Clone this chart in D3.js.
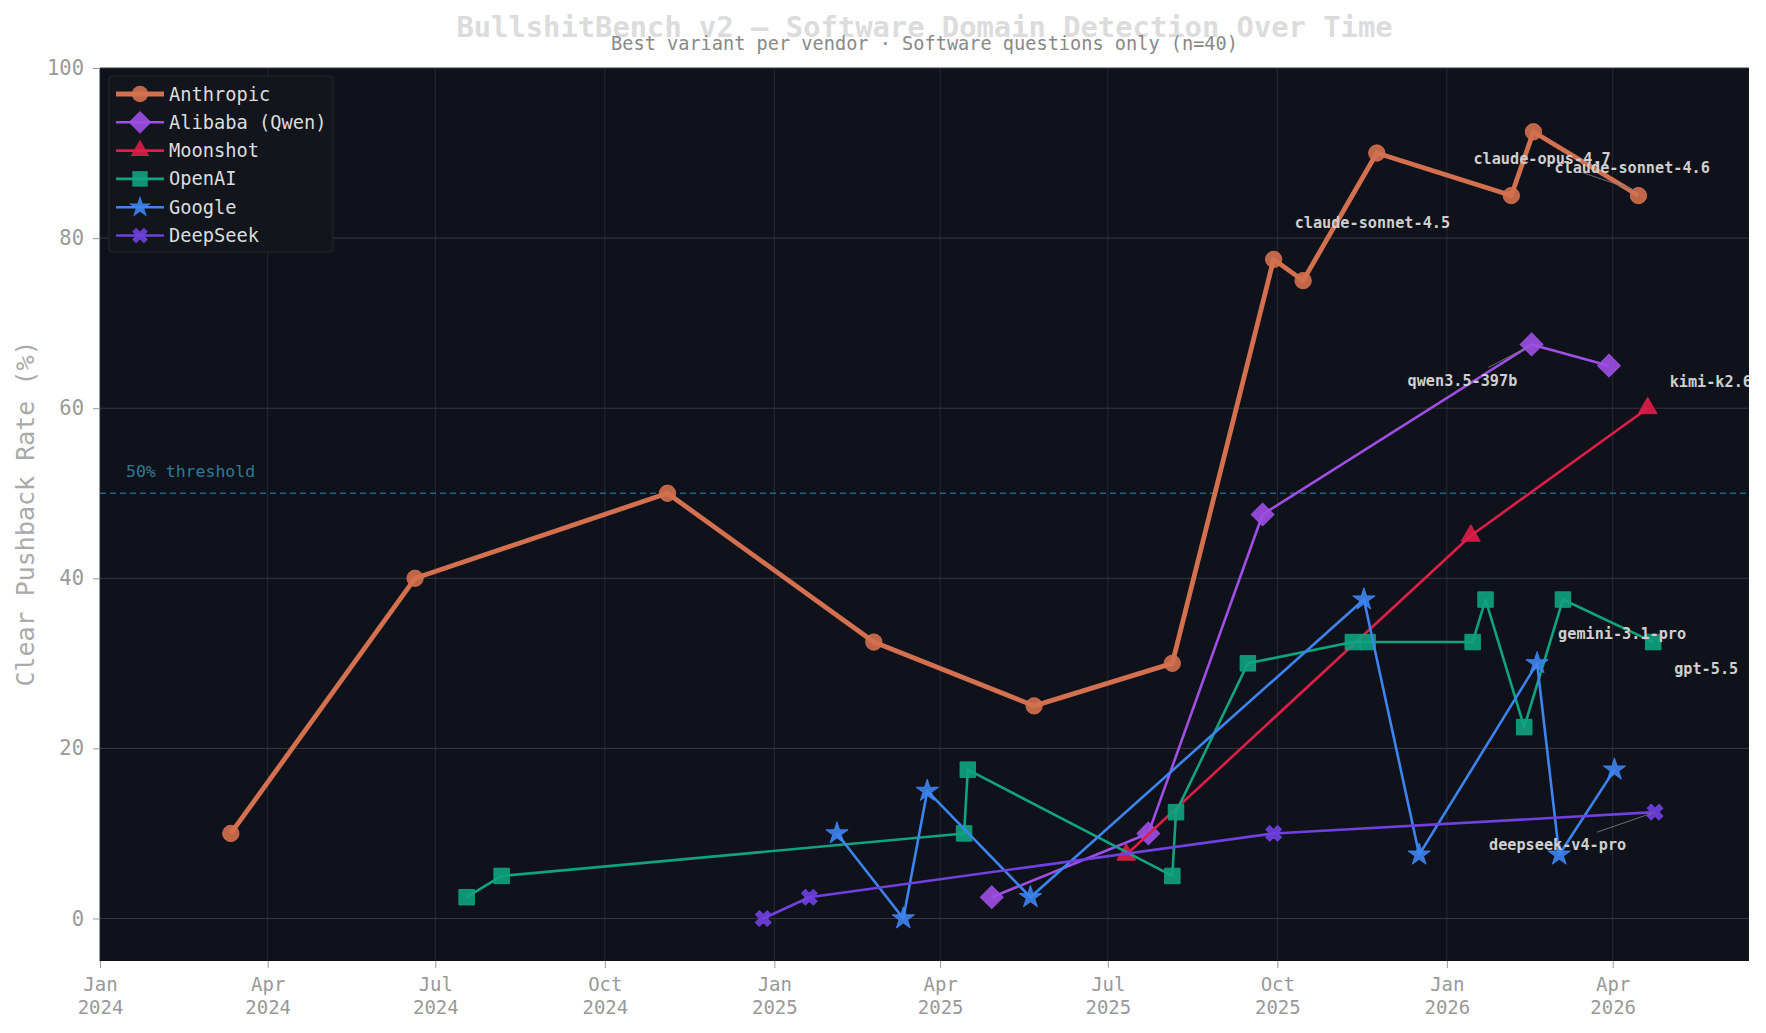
<!DOCTYPE html>
<html><head><meta charset="utf-8">
<script src="https://cdn.jsdelivr.net/npm/d3@7"></script>
<style>
html,body{margin:0;padding:0;background:#ffffff;}
svg{display:block;font-family:"DejaVu Sans Mono",monospace;}
</style></head>
<body>
<svg id="chart" width="1766" height="1033"></svg>
<script>
// ---------- DATA ----------
const seriesNames = ["Anthropic", "Alibaba (Qwen)", "Moonshot", "OpenAI", "Google", "DeepSeek"];

const anthropicDates = ["2024-03-12","2024-06-20","2024-11-04","2025-02-24","2025-05-22","2025-08-05","2025-09-29","2025-10-15","2025-11-24","2026-02-05","2026-02-17","2026-04-15"];
const anthropicValues = [10, 40, 50, 32.5, 25, 30, 77.5, 75, 90, 85, 92.5, 85];

const alibabaDates = ["2025-04-29","2025-07-23","2025-09-23","2026-02-16","2026-03-30"];
const alibabaValues = [2.5, 10, 47.5, 67.5, 65];

const moonshotDates = ["2025-07-11","2026-01-14","2026-04-20"];
const moonshotValues = [7.5, 45, 60];

const openaiDates = ["2024-07-18","2024-08-06","2025-04-14","2025-04-16","2025-08-05","2025-08-07","2025-09-15","2025-11-11","2025-11-19","2026-01-15","2026-01-22","2026-02-12","2026-03-05","2026-04-23"];
const openaiValues = [2.5, 5, 10, 17.5, 5, 12.5, 30, 32.5, 32.5, 32.5, 37.5, 22.5, 37.5, 32.5];

const googleDates = ["2025-02-04","2025-03-12","2025-03-25","2025-05-20","2025-11-17","2025-12-17","2026-02-19","2026-03-03","2026-04-02"];
const googleValues = [10, 0, 15, 2.5, 37.5, 7.5, 30, 7.5, 17.5];

const deepseekDates = ["2024-12-26","2025-01-20","2025-09-29","2026-04-24"];
const deepseekValues = [0, 2.5, 10, 12.5];

const yTicks = [0, 20, 40, 60, 80, 100];
const thresholdValue = 50;
const thresholdLabel = "50% threshold";

const annotationLabels = ["claude-sonnet-4.5","claude-opus-4.7","claude-sonnet-4.6","qwen3.5-397b","kimi-k2.6","gemini-3.1-pro","gpt-5.5","deepseek-v4-pro"];
const annotationDates  = ["2025-09-29","2026-04-15","2026-04-15","2026-02-16","2026-04-20","2026-02-19","2026-04-23","2026-04-24"];
const annotationValues = [77.5, 85, 85, 67.5, 60, 30, 32.5, 12.5];

const titleText = "BullshitBench v2 \u2014 Software Domain Detection Over Time";
const subtitleText = "Best variant per vendor \u00b7 Software questions only (n=40)";
const yLabelText = "Clear Pushback Rate (%)";

// ---------- STYLE / LAYOUT ----------
const colors = ["#d3704f", "#9f4fe6", "#dc1e48", "#10a37f", "#3d84f0", "#7040e0"];
const lineWidths = [4.8, 2.6, 2.6, 2.6, 2.6, 2.6];
const symbolTypes = [d3.symbolCircle, d3.symbolSquare, d3.symbolTriangle, d3.symbolSquare, d3.symbolStar, d3.symbolCross];
const symbolSizes = [210, 260, 155, 240, 155, 155];
const symbolRot = [0, 45, 0, 0, 0, 45];
// annotation offsets in px relative to the anchor point: [textDx, textDy, leader]
const annotationOffsets = [
  [21, -31, null],
  [-165, -32, null],
  [-84, -23, [-59, -24, 0, -4]],
  [-124, 42, [-43, 23, -3, 2]],
  [22, -21, null],
  [21, -24, null],
  [21, 32, null],
  [-166, 38, [-58, 20, -3, 1]]
];

const m = {left: 100, right: 1749, top: 68, bottom: 961};

const parse = d3.timeParse("%Y-%m-%d");
const allDates = [anthropicDates, alibabaDates, moonshotDates, openaiDates, googleDates, deepseekDates];
const allValues = [anthropicValues, alibabaValues, moonshotValues, openaiValues, googleValues, deepseekValues];
const series = seriesNames.map((n, i) => ({
  name: n, color: colors[i],
  points: allDates[i].map((d, j) => ({date: parse(d), value: allValues[i][j]}))
}));

const x = d3.scaleTime().domain([parse("2024-01-01"), parse("2026-06-14")]).range([m.left, m.right]);
const y = d3.scaleLinear().domain([-5, 100]).range([m.bottom, m.top]);

const svg = d3.select("#chart");

svg.append("rect").attr("x", m.left).attr("y", m.top)
  .attr("width", m.right - m.left).attr("height", m.bottom - m.top).attr("fill", "#0f121a");

svg.append("defs").append("clipPath").attr("id", "clip")
  .append("rect").attr("x", m.left).attr("y", m.top)
  .attr("width", m.right - m.left).attr("height", m.bottom - m.top);

// grid
const xTicks = x.ticks(d3.timeMonth.every(3)).filter(d => d <= x.domain()[1]);
const grid = svg.append("g");
grid.selectAll("line.v").data(xTicks).join("line")
  .attr("x1", d => x(d)).attr("x2", d => x(d)).attr("y1", m.top).attr("y2", m.bottom)
  .attr("stroke", "#262a33").attr("stroke-width", 1);
grid.selectAll("line.h").data(yTicks).join("line")
  .attr("x1", m.left).attr("x2", m.right).attr("y1", d => y(d)).attr("y2", d => y(d))
  .attr("stroke", "#353942").attr("stroke-width", 1);

// axes
const fmtMon = d3.timeFormat("%b"), fmtYr = d3.timeFormat("%Y");
const xAxis = svg.append("g").attr("transform", `translate(0,${m.bottom})`)
  .call(d3.axisBottom(x).tickValues(xTicks).tickSize(7).tickPadding(10).tickFormat(() => ""));
xAxis.select(".domain").remove();
xAxis.selectAll(".tick line").attr("stroke", "#999");
xAxis.selectAll(".tick text").each(function(d) {
  const t = d3.select(this);
  t.attr("font-size", 19).attr("fill", "#999").attr("font-family", "DejaVu Sans Mono");
  t.append("tspan").attr("x", 0).attr("dy", "0.71em").text(fmtMon(d));
  t.append("tspan").attr("x", 0).attr("dy", "1.2em").text(fmtYr(d));
});

const yAxis = svg.append("g").attr("transform", `translate(${m.left},0)`)
  .call(d3.axisLeft(y).tickValues(yTicks).tickSize(7).tickPadding(9));
yAxis.select(".domain").remove();
yAxis.selectAll(".tick line").attr("stroke", "#999");
yAxis.selectAll(".tick text").attr("font-size", 20.5).attr("fill", "#999").attr("font-family", "DejaVu Sans Mono");

svg.append("text").attr("transform", `translate(34,${(m.top + m.bottom) / 2 - 1}) rotate(-90)`)
  .attr("text-anchor", "middle").attr("font-size", 25).attr("fill", "#aaaaaa")
  .text(yLabelText);

// titles
svg.append("text").attr("x", (m.left + m.right) / 2).attr("y", 37).attr("text-anchor", "middle")
  .attr("font-size", 28.8).attr("font-weight", "bold").attr("fill", "#dcdcdc").text(titleText);
svg.append("text").attr("x", (m.left + m.right) / 2).attr("y", 50).attr("text-anchor", "middle")
  .attr("font-size", 18.6).attr("fill", "#888").text(subtitleText);

const plot = svg.append("g").attr("clip-path", "url(#clip)");

// threshold
plot.append("line").attr("x1", m.left).attr("x2", m.right)
  .attr("y1", y(thresholdValue)).attr("y2", y(thresholdValue))
  .attr("stroke", "#1f6480").attr("stroke-width", 1.3).attr("stroke-dasharray", "6,4");
plot.append("text").attr("x", m.left + 26).attr("y", y(thresholdValue) - 16)
  .attr("font-size", 16.5).attr("fill", "#2f7a97").text(thresholdLabel);

// lines & markers
const line = d3.line().x(d => x(d.date)).y(d => y(d.value));
series.forEach((s, i) => {
  const g = plot.append("g");
  g.append("path").datum(s.points).attr("d", line).attr("fill", "none")
    .attr("stroke", s.color).attr("stroke-width", lineWidths[i]).attr("stroke-linejoin", "round");
  g.selectAll("path.mk").data(s.points).join("path").attr("class", "mk")
    .attr("d", d3.symbol().type(symbolTypes[i]).size(symbolSizes[i]))
    .attr("transform", d => `translate(${x(d.date)},${y(d.value)}) rotate(${symbolRot[i]})`)
    .attr("fill", s.color).attr("fill-opacity", 0.9)
    .attr("stroke", s.color).attr("stroke-opacity", 0.9).attr("stroke-width", 1);
});

// annotations
annotationLabels.forEach((lab, i) => {
  const px = x(parse(annotationDates[i])), py = y(annotationValues[i]);
  const o = annotationOffsets[i];
  if (o[2]) {
    plot.append("line").attr("x1", px + o[2][0]).attr("y1", py + o[2][1])
      .attr("x2", px + o[2][2]).attr("y2", py + o[2][3])
      .attr("stroke", "#777").attr("stroke-width", 0.9);
  }
  plot.append("text").attr("x", px + o[0]).attr("y", py + o[1])
    .attr("font-size", 15.2).attr("font-weight", "bold").attr("fill", "#cfcfcf").text(lab);
});

// legend
const lg = svg.append("g");
lg.append("rect").attr("x", 109).attr("y", 76).attr("width", 224).attr("height", 176).attr("rx", 4)
  .attr("fill", "#12151c").attr("stroke", "#262930").attr("stroke-width", 1);
series.forEach((s, i) => {
  const cy = 94 + i * 28.3;
  lg.append("line").attr("x1", 116).attr("x2", 164).attr("y1", cy).attr("y2", cy)
    .attr("stroke", s.color).attr("stroke-width", lineWidths[i]);
  lg.append("path").attr("d", d3.symbol().type(symbolTypes[i]).size(symbolSizes[i])())
    .attr("transform", `translate(140,${cy}) rotate(${symbolRot[i]})`)
    .attr("fill", s.color).attr("fill-opacity", 0.9);
  lg.append("text").attr("x", 169).attr("y", cy).attr("dy", "0.35em")
    .attr("font-size", 18.7).attr("fill", "#dddddd").text(s.name);
});
</script>
</body></html>
